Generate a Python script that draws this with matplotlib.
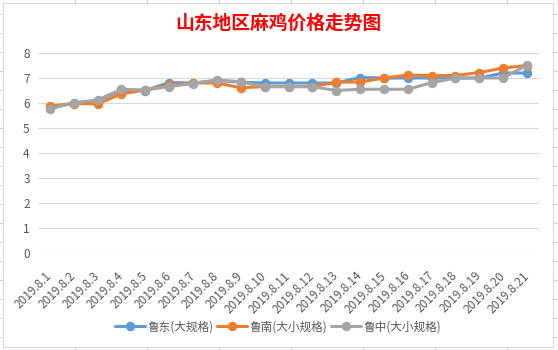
import matplotlib
matplotlib.use("Agg")
import matplotlib.pyplot as plt
import matplotlib.transforms as mtransforms
from matplotlib.lines import Line2D
from matplotlib.patches import Rectangle

plt.rcParams['font.family'] = ['Noto Sans CJK SC', 'DejaVu Sans']

# data
dates = ['2019.8.%d' % d for d in range(1, 22)]
ludong = [5.8, 6.0, 6.1, 6.5, 6.5, 6.82, 6.8, 6.9, 6.83, 6.8, 6.8, 6.8,
          6.8, 7.02, 7.0, 7.0, 7.0, 7.0, 7.0, 7.2, 7.2]
lunan = [5.88, 5.98, 5.96, 6.37, 6.52, 6.72, 6.8, 6.8, 6.61, 6.66, 6.66, 6.66,
         6.83, 6.84, 7.0, 7.12, 7.1, 7.1, 7.22, 7.4, 7.5]
luzhong = [5.77, 6.0, 6.12, 6.55, 6.52, 6.66, 6.78, 6.92, 6.85, 6.65, 6.65, 6.65,
           6.5, 6.55, 6.55, 6.55, 6.81, 7.0, 7.0, 7.0, 7.52]
series_names = ['鲁东(大规格)', '鲁南(大小规格)', '鲁中(大小规格)']
colors = ['#5B9BD5', '#ED7D31', '#A5A5A5']

W, H = 558, 350
fig = plt.figure(figsize=(W / 100, H / 100), dpi=100)

# spreadsheet cell lines behind the chart
for x in range(75, W, 72):
    fig.add_artist(Line2D([x / W, x / W], [0, 1], color='#d4d4d4', lw=0.8, zorder=-2))
for y in range(14, H, 19):
    fig.add_artist(Line2D([0, 1], [1 - y / H, 1 - y / H], color='#d4d4d4', lw=0.8, zorder=-2))
fig.add_artist(Rectangle((3 / W, 3 / H), 550 / W, 344 / H, facecolor='white',
                         edgecolor='#d9d9d9', lw=0.8, zorder=-1))

ax = fig.add_axes([38 / W, 97 / H, 501 / W, 200 / H])
ax.set_zorder(1)
ax.patch.set_alpha(0)
x = list(range(len(dates)))
for vals, name, c in zip([ludong, lunan, luzhong], series_names, colors):
    ax.plot(x, vals, color=c, lw=2.2, marker='o', markersize=5.8, label=name,
            solid_capstyle='round')

ax.set_xlim(-0.5, len(dates) - 0.5)
ax.set_ylim(0, 8)
ax.set_yticks(range(0, 9))
ax.grid(axis='y', color='#d9d9d9', lw=0.8)
ax.set_axisbelow(True)
for s in ax.spines.values():
    s.set_visible(False)
ax.tick_params(length=0, colors='#595959', labelsize=8.5)
ax.tick_params(axis='y', pad=6)
ax.set_xticks(x)
ax.set_xticklabels(dates, rotation=45, ha='right', va='center',
                   rotation_mode='anchor', fontsize=8.5, color='#595959')
offset = mtransforms.ScaledTranslation(8 / 100, 0, fig.dpi_scale_trans)
for lab in ax.get_xticklabels():
    lab.set_transform(lab.get_transform() + offset)
ax.tick_params(axis='x', pad=15)

fig.text(278 / W, 1 - 23.5 / H, '山东地区麻鸡价格走势图', color='#FF0000',
         fontsize=13.5, ha='center', va='center', fontweight='bold', zorder=2)

leg = fig.legend(loc='center', bbox_to_anchor=(278 / W, 1 - 327 / H), ncol=3,
                 frameon=False, fontsize=8.4, handlelength=2.6, handletextpad=0.2,
                 columnspacing=0.3, labelcolor='#595959')
leg.set_zorder(2)

fig.savefig('out.png', dpi=100)
